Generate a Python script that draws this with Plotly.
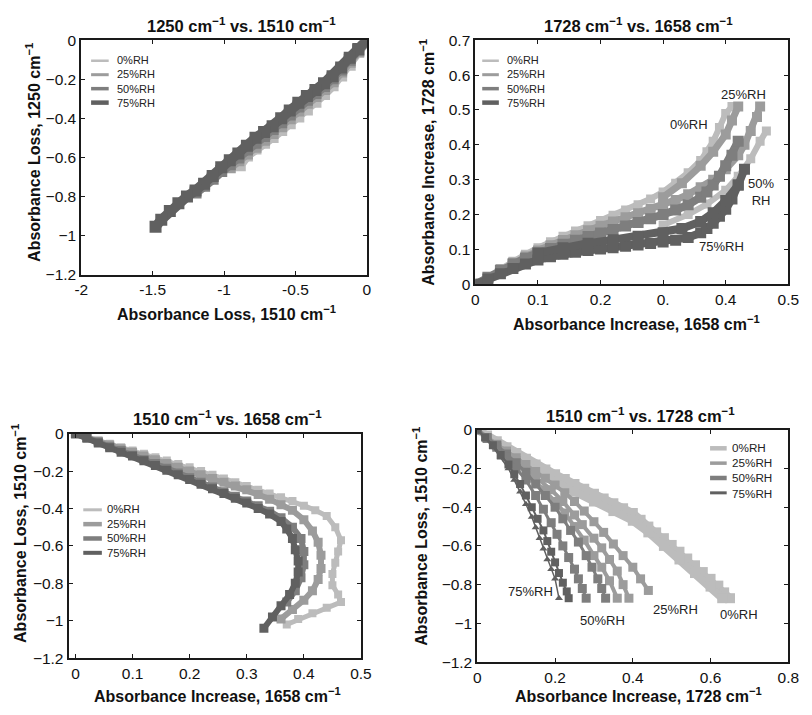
import plotly.graph_objects as go

# ---------------- data ----------------
rh_names = ["0%RH", "25%RH", "50%RH", "75%RH"]
rh_colors = ["#bcbcbc", "#9c9c9c", "#7e7e7e", "#606060"]

# Panel 1: 1250 vs 1510 (both absorbance loss)
p1_x_0 = [0, -0.06, -0.12, -0.18, -0.24, -0.30, -0.36, -0.42, -0.48, -0.54, -0.60, -0.66, -0.72, -0.78, -0.84, -0.89]
p1_y_0 = [0, -0.06, -0.125, -0.18, -0.23, -0.275, -0.315, -0.355, -0.39, -0.425, -0.46, -0.495, -0.525, -0.555, -0.59, -0.64]
p1_x_25 = [0, -0.06, -0.12, -0.18, -0.24, -0.30, -0.36, -0.42, -0.48, -0.54, -0.60, -0.66, -0.72, -0.78, -0.84, -0.90, -0.96]
p1_y_25 = [0, -0.055, -0.11, -0.16, -0.21, -0.25, -0.285, -0.32, -0.36, -0.40, -0.44, -0.475, -0.51, -0.545, -0.58, -0.615, -0.65]
p1_x_50 = [0, -0.06, -0.12, -0.18, -0.24, -0.30, -0.36, -0.42, -0.48, -0.54, -0.60, -0.66, -0.72, -0.78, -0.84, -0.90, -0.96, -1.02, -1.08, -1.14, -1.20]
p1_y_50 = [0, -0.05, -0.10, -0.15, -0.195, -0.235, -0.27, -0.305, -0.34, -0.38, -0.42, -0.455, -0.49, -0.525, -0.56, -0.60, -0.635, -0.67, -0.71, -0.745, -0.78]
p1_x_75 = [0, -0.06, -0.12, -0.18, -0.24, -0.30, -0.36, -0.42, -0.48, -0.54, -0.60, -0.66, -0.72, -0.78, -0.84, -0.90, -0.96, -1.02, -1.08, -1.14, -1.20, -1.26, -1.32, -1.38, -1.44, -1.48]
p1_y_75 = [0, -0.045, -0.09, -0.14, -0.185, -0.22, -0.255, -0.285, -0.32, -0.36, -0.40, -0.44, -0.47, -0.50, -0.54, -0.58, -0.615, -0.65, -0.695, -0.735, -0.77, -0.80, -0.835, -0.875, -0.92, -0.955]

# Panel 2: 1728 vs 1658 (absorbance increase)
p2_x_0a = [0, 0.02, 0.04, 0.06, 0.08, 0.10, 0.12, 0.14, 0.16, 0.18, 0.20, 0.22, 0.24, 0.26, 0.28, 0.30, 0.32, 0.34, 0.36, 0.37, 0.38, 0.39, 0.40, 0.41]
p2_y_0a = [0, 0.022, 0.045, 0.066, 0.086, 0.105, 0.122, 0.138, 0.153, 0.168, 0.183, 0.198, 0.213, 0.228, 0.245, 0.265, 0.29, 0.32, 0.355, 0.38, 0.41, 0.45, 0.49, 0.51]
p2_x_0b = [0.30, 0.34, 0.37, 0.40, 0.42, 0.44, 0.455, 0.465]
p2_y_0b = [0.17, 0.20, 0.23, 0.27, 0.31, 0.36, 0.41, 0.44]
p2_x_25a = [0, 0.02, 0.04, 0.06, 0.08, 0.10, 0.12, 0.14, 0.16, 0.18, 0.20, 0.22, 0.24, 0.26, 0.28, 0.30, 0.32, 0.34, 0.36, 0.38, 0.40, 0.42, 0.43, 0.44, 0.45, 0.455]
p2_y_25a = [0, 0.02, 0.042, 0.062, 0.08, 0.097, 0.112, 0.127, 0.141, 0.155, 0.168, 0.18, 0.192, 0.204, 0.216, 0.228, 0.242, 0.258, 0.278, 0.30, 0.33, 0.37, 0.40, 0.44, 0.48, 0.51]
p2_x_25b = [0.30, 0.33, 0.36, 0.38, 0.40, 0.41, 0.42]
p2_y_25b = [0.25, 0.29, 0.34, 0.38, 0.43, 0.47, 0.51]
p2_x_50 = [0, 0.02, 0.04, 0.06, 0.08, 0.10, 0.12, 0.14, 0.16, 0.18, 0.20, 0.22, 0.24, 0.26, 0.28, 0.30, 0.32, 0.34, 0.36, 0.37, 0.38, 0.39, 0.40, 0.41, 0.42]
p2_y_50 = [0, 0.02, 0.04, 0.058, 0.075, 0.09, 0.103, 0.115, 0.126, 0.137, 0.147, 0.157, 0.167, 0.177, 0.188, 0.20, 0.213, 0.228, 0.25, 0.265, 0.285, 0.31, 0.34, 0.37, 0.41]
p2_x_75a = [0, 0.02, 0.04, 0.06, 0.08, 0.10, 0.12, 0.14, 0.16, 0.18, 0.20, 0.22, 0.24, 0.26, 0.28, 0.30, 0.32, 0.34, 0.36, 0.37, 0.38, 0.39, 0.40, 0.41, 0.42]
p2_y_75a = [0, 0.015, 0.03, 0.045, 0.058, 0.07, 0.079, 0.086, 0.092, 0.097, 0.101, 0.105, 0.109, 0.113, 0.117, 0.121, 0.126, 0.134, 0.148, 0.16, 0.175, 0.195, 0.215, 0.245, 0.285]
p2_x_75b = [0.10, 0.14, 0.18, 0.22, 0.26, 0.30, 0.33, 0.36, 0.38, 0.40, 0.42, 0.43]
p2_y_75b = [0.09, 0.105, 0.118, 0.128, 0.138, 0.148, 0.16, 0.18, 0.205, 0.24, 0.285, 0.33]

# Panel 3: 1510 vs 1658
p3_x_0 = [0, 0.02, 0.04, 0.06, 0.08, 0.10, 0.12, 0.14, 0.16, 0.18, 0.20, 0.22, 0.24, 0.26, 0.28, 0.30, 0.32, 0.34, 0.36, 0.38, 0.40, 0.42, 0.44,
          0.455, 0.465, 0.46, 0.455, 0.45, 0.45, 0.46, 0.465, 0.44, 0.415, 0.39, 0.37]
p3_y_0 = [0, -0.018, -0.036, -0.054, -0.072, -0.09, -0.108, -0.126, -0.144, -0.162, -0.18, -0.20, -0.22, -0.24, -0.26, -0.28, -0.30, -0.32, -0.34, -0.36, -0.385, -0.41, -0.44,
          -0.50, -0.57, -0.63, -0.69, -0.75, -0.81, -0.86, -0.90, -0.93, -0.96, -0.99, -1.02]
p3_x_25 = [0, 0.02, 0.04, 0.06, 0.08, 0.10, 0.12, 0.14, 0.16, 0.18, 0.20, 0.22, 0.24, 0.26, 0.28, 0.30, 0.32, 0.34, 0.36, 0.38,
           0.40, 0.415, 0.425, 0.43, 0.43, 0.425, 0.415, 0.40, 0.38, 0.36]
p3_y_25 = [0, -0.02, -0.04, -0.06, -0.08, -0.10, -0.12, -0.14, -0.16, -0.18, -0.20, -0.22, -0.24, -0.26, -0.28, -0.30, -0.325, -0.35, -0.38, -0.41,
           -0.46, -0.52, -0.58, -0.65, -0.72, -0.78, -0.84, -0.89, -0.94, -0.99]
p3_x_50 = [0, 0.02, 0.04, 0.06, 0.08, 0.10, 0.12, 0.14, 0.16, 0.18, 0.20, 0.22, 0.24, 0.26, 0.28, 0.30, 0.32, 0.34,
           0.36, 0.38, 0.395, 0.40, 0.40, 0.395, 0.385, 0.37]
p3_y_50 = [0, -0.02, -0.045, -0.07, -0.09, -0.115, -0.14, -0.16, -0.185, -0.21, -0.235, -0.26, -0.285, -0.31, -0.335, -0.36, -0.385, -0.415,
           -0.45, -0.50, -0.56, -0.63, -0.70, -0.77, -0.84, -0.90]
p3_x_75 = [0, 0.02, 0.04, 0.06, 0.08, 0.10, 0.12, 0.14, 0.16, 0.18, 0.20, 0.22, 0.24, 0.26, 0.28, 0.30, 0.32, 0.34,
           0.36, 0.37, 0.38, 0.385, 0.39, 0.39, 0.385, 0.375, 0.36, 0.345, 0.33]
p3_y_75 = [0, -0.025, -0.05, -0.075, -0.10, -0.12, -0.145, -0.17, -0.195, -0.22, -0.245, -0.27, -0.295, -0.32, -0.345, -0.37, -0.40, -0.43,
           -0.47, -0.51, -0.56, -0.62, -0.68, -0.74, -0.80, -0.86, -0.92, -0.98, -1.04]

# Panel 4: 1510 vs 1728
p4_x_0a = [0, 0.025, 0.05, 0.075, 0.10, 0.125, 0.15, 0.175, 0.20, 0.225, 0.25, 0.275, 0.30, 0.325, 0.35, 0.375, 0.40, 0.42, 0.44, 0.46, 0.48, 0.50, 0.52, 0.54, 0.56, 0.58, 0.60, 0.62, 0.635, 0.65]
p4_y_0a = [0, -0.03, -0.06, -0.09, -0.12, -0.15, -0.18, -0.205, -0.23, -0.255, -0.28, -0.305, -0.33, -0.355, -0.38, -0.405, -0.43, -0.465, -0.50, -0.53, -0.56, -0.595, -0.63, -0.665, -0.70, -0.735, -0.77, -0.805, -0.84, -0.87]
p4_x_0b = [0.05, 0.10, 0.15, 0.20, 0.25, 0.30, 0.35, 0.40, 0.44, 0.48, 0.52, 0.56, 0.60, 0.63]
p4_y_0b = [-0.08, -0.15, -0.21, -0.27, -0.32, -0.37, -0.42, -0.47, -0.53, -0.60, -0.67, -0.74, -0.81, -0.87]
p4_x_25a = [0, 0.025, 0.05, 0.075, 0.10, 0.125, 0.15, 0.175, 0.20, 0.225, 0.25, 0.275, 0.30, 0.325, 0.35, 0.375, 0.40, 0.42, 0.44]
p4_y_25a = [0, -0.04, -0.075, -0.11, -0.145, -0.18, -0.215, -0.25, -0.285, -0.325, -0.37, -0.42, -0.475, -0.53, -0.59, -0.65, -0.71, -0.77, -0.83]
p4_x_25b = [0, 0.05, 0.10, 0.15, 0.19, 0.22, 0.25, 0.27, 0.30, 0.32, 0.34, 0.36, 0.375, 0.39]
p4_y_25b = [0, -0.08, -0.16, -0.24, -0.31, -0.37, -0.44, -0.49, -0.56, -0.61, -0.67, -0.73, -0.80, -0.87]
p4_x_25c = [0.10, 0.14, 0.17, 0.20, 0.225, 0.25, 0.275, 0.30, 0.32, 0.34, 0.36]
p4_y_25c = [-0.17, -0.25, -0.31, -0.37, -0.43, -0.50, -0.57, -0.65, -0.71, -0.78, -0.87]
p4_x_50a = [0, 0.025, 0.05, 0.075, 0.10, 0.125, 0.15, 0.175, 0.20, 0.22, 0.24, 0.26, 0.28, 0.295, 0.31, 0.32, 0.33]
p4_y_50a = [0, -0.04, -0.08, -0.125, -0.17, -0.22, -0.28, -0.34, -0.40, -0.46, -0.52, -0.58, -0.65, -0.71, -0.77, -0.82, -0.87]
p4_x_50b = [0, 0.025, 0.05, 0.075, 0.10, 0.125, 0.15, 0.17, 0.19, 0.205, 0.22, 0.235, 0.25, 0.26, 0.27, 0.28]
p4_y_50b = [0, -0.045, -0.09, -0.14, -0.20, -0.26, -0.34, -0.41, -0.48, -0.54, -0.60, -0.66, -0.72, -0.77, -0.82, -0.87]
p4_x_75a = [0, 0.02, 0.04, 0.06, 0.08, 0.095, 0.11, 0.125, 0.14, 0.155, 0.17, 0.18, 0.19, 0.20, 0.21, 0.22, 0.23, 0.235]
p4_y_75a = [0, -0.04, -0.08, -0.13, -0.18, -0.23, -0.28, -0.34, -0.40, -0.46, -0.52, -0.575, -0.63, -0.685, -0.74, -0.79, -0.835, -0.87]
p4_x_75b = [0, 0.02, 0.04, 0.06, 0.08, 0.095, 0.11, 0.125, 0.14, 0.15, 0.16, 0.17, 0.18, 0.19, 0.20, 0.21]
p4_y_75b = [0, -0.045, -0.09, -0.145, -0.20, -0.26, -0.32, -0.385, -0.45, -0.505, -0.56, -0.615, -0.67, -0.72, -0.77, -0.87]

# annotation labels (data coordinates)
p2_labels = [("25%RH", 0.428, 0.543), ("0%RH", 0.342, 0.459), ("50%<br>RH", 0.456, 0.266), ("75%RH", 0.394, 0.109)]
p4_labels = [("75%RH", 0.138, -0.837), ("50%RH", 0.322, -0.983), ("25%RH", 0.511, -0.928), ("0%RH", 0.674, -0.953)]

# ---------------- figure ----------------
W, H = 812, 715
FONT = "Liberation Sans, Arial, Helvetica, sans-serif"

def dom_x(a, b):
    return [a / W, b / W]

def dom_y(top, bottom):
    return [1 - bottom / H, 1 - top / H]

fig = go.Figure()

def add_runs(xa, ya, runs, color, lw, msize, symbol="square"):
    for rx, ry in runs:
        fig.add_trace(go.Scatter(
            x=rx, y=ry, xaxis=xa, yaxis=ya, mode="lines+markers",
            line=dict(color=color, width=lw),
            marker=dict(symbol=symbol, size=msize, color=color),
            showlegend=False, hoverinfo="skip"))

# Panel 1
add_runs("x", "y", [(p1_x_0, p1_y_0)], rh_colors[0], 10, 12)
add_runs("x", "y", [(p1_x_25, p1_y_25)], rh_colors[1], 10, 12)
add_runs("x", "y", [(p1_x_50, p1_y_50)], rh_colors[2], 10, 12)
add_runs("x", "y", [(p1_x_75, p1_y_75)], rh_colors[3], 10, 12)

# Panel 2
add_runs("x2", "y2", [(p2_x_0a, p2_y_0a), (p2_x_0b, p2_y_0b)], rh_colors[0], 6, 9)
add_runs("x2", "y2", [(p2_x_25a, p2_y_25a), (p2_x_25b, p2_y_25b)], rh_colors[1], 7, 10)
add_runs("x2", "y2", [(p2_x_50, p2_y_50)], rh_colors[2], 8, 11)
add_runs("x2", "y2", [(p2_x_75a, p2_y_75a), (p2_x_75b, p2_y_75b)], rh_colors[3], 8, 11)

# Panel 3
add_runs("x3", "y3", [(p3_x_0, p3_y_0)], rh_colors[0], 5, 8)
add_runs("x3", "y3", [(p3_x_25, p3_y_25)], rh_colors[1], 6, 9)
add_runs("x3", "y3", [(p3_x_50, p3_y_50)], rh_colors[2], 6, 9)
add_runs("x3", "y3", [(p3_x_75, p3_y_75)], rh_colors[3], 6, 9)

# Panel 4
add_runs("x4", "y4", [(p4_x_0a, p4_y_0a), (p4_x_0b, p4_y_0b)], rh_colors[0], 8, 10)
add_runs("x4", "y4", [(p4_x_25a, p4_y_25a), (p4_x_25b, p4_y_25b), (p4_x_25c, p4_y_25c)], rh_colors[1], 4, 9)
add_runs("x4", "y4", [(p4_x_50a, p4_y_50a), (p4_x_50b, p4_y_50b)], rh_colors[2], 3, 9)
add_runs("x4", "y4", [(p4_x_75a, p4_y_75a)], rh_colors[3], 2, 8)
add_runs("x4", "y4", [(p4_x_75b, p4_y_75b)], rh_colors[3], 1.5, 7, symbol="triangle-up")

axis_common = dict(showline=True, linecolor="#1a1a1a", linewidth=2, mirror="ticks",
                   ticks="inside", ticklen=4, tickcolor="#1a1a1a", tickwidth=1,
                   showgrid=False, zeroline=False,
                   tickfont=dict(family=FONT, size=15.5, color="#111"))

yneg_vals = [0, -0.2, -0.4, -0.6, -0.8, -1, -1.2]
yneg_text = ["0", "\u22120.2", "\u22120.4", "\u22120.6", "\u22120.8", "\u22121", "\u22121.2"]

fig.update_layout(
    width=W, height=H, margin=dict(l=0, r=0, t=0, b=0),
    paper_bgcolor="white", plot_bgcolor="white", showlegend=False,
    font=dict(family=FONT, color="#111"),
    xaxis=dict(domain=dom_x(76, 368), anchor="y", range=[-2, 0],
               tickvals=[-2, -1.5, -1, -0.5, 0], ticktext=["-2", "-1.5", "-1", "-0.5", "0"], **axis_common),
    yaxis=dict(domain=dom_y(32, 272), anchor="x", range=[-1.2, 0],
               tickvals=yneg_vals, ticktext=yneg_text, **axis_common),
    xaxis2=dict(domain=dom_x(479, 799), anchor="y2", range=[0, 0.5],
                tickvals=[0, 0.1, 0.2, 0.3, 0.4, 0.5], ticktext=["0", "0.1", "0.2", "0.", "0.4", "0.5"], **axis_common),
    yaxis2=dict(domain=dom_y(32, 282), anchor="x2", range=[0, 0.7],
                tickvals=[0, 0.1, 0.2, 0.3, 0.4, 0.5, 0.6, 0.7], **axis_common),
    xaxis3=dict(domain=dom_x(63, 362), anchor="y3", range=[-0.012, 0.5],
                tickvals=[0, 0.1, 0.2, 0.3, 0.4, 0.5], **axis_common),
    yaxis3=dict(domain=dom_y(435, 665), anchor="x3", range=[-1.2, 0],
                tickvals=yneg_vals, ticktext=yneg_text, **axis_common),
    xaxis4=dict(domain=dom_x(481, 799), anchor="y4", range=[0, 0.8],
                tickvals=[0, 0.2, 0.4, 0.6, 0.8], **axis_common),
    yaxis4=dict(domain=dom_y(431, 669), anchor="x4", range=[-1.2, 0],
                tickvals=yneg_vals, ticktext=yneg_text, **axis_common),
)

ann = []
shapes = []

def paper_text(text, x, y, size, bold=False, angle=0, xanchor="center", color="#111", align="center"):
    t = f"<b>{text}</b>" if bold else text
    ann.append(dict(text=t, x=x / W, y=1 - y / H, xref="paper", yref="paper",
                    showarrow=False, xanchor=xanchor, yanchor="middle", textangle=angle,
                    align=align, borderpad=0,
                    font=dict(family=FONT, size=size, color=color)))

# custom compact legends: one multi-line text block per panel, swatches aligned to its lines
# (line start, line end, text x, first row y, font size)
legend_specs = [
    (86, 104, 111, 53, 11),
    (486, 503, 510, 53, 11),
    (78, 97, 101, 513, 11.3),
    (719, 736, 740, 450, 11.7),
]
legend_widths = [[2.5, 3, 3.5, 4.5], [2.5, 3, 3.5, 4.5], [3, 4.5, 4.5, 4], [4.5, 3.5, 4.5, 3]]
for (lx0, lx1, tx, ty0, fs), widths in zip(legend_specs, legend_widths):
    step = 1.3 * fs
    for i, color in enumerate(rh_colors):
        yy = ty0 + i * step
        shapes.append(dict(type="line", xref="paper", yref="paper",
                           x0=lx0 / W, x1=lx1 / W, y0=1 - yy / H, y1=1 - yy / H,
                           line=dict(color=color, width=widths[i])))
    paper_text("<br>".join(rh_names), tx, ty0 + 1.5 * step, fs, xanchor="left",
               color="#222", align="left")

sup = "<sup>\u22121</sup>"
# titles
paper_text(f"1250 cm{sup} vs. 1510 cm{sup}", 240, 16, 16.5, bold=True)
paper_text(f"1728 cm{sup} vs. 1658 cm{sup}", 646, 16, 16.5, bold=True)
paper_text(f"1510 cm{sup} vs. 1658 cm{sup}", 225, 419, 16.5, bold=True)
paper_text(f"1510 cm{sup} vs. 1728 cm{sup}", 648, 416, 16.5, bold=True)
# axis titles
paper_text(f"Absorbance Loss, 1510 cm{sup}", 224, 311, 16, bold=True)
paper_text(f"Absorbance Loss, 1250 cm{sup}", 26, 147, 16, bold=True, angle=-90)
paper_text(f"Absorbance Increase, 1658 cm{sup}", 644, 322, 16, bold=True)
paper_text(f"Absorbance Increase, 1728 cm{sup}", 430, 157, 16, bold=True, angle=-90)
paper_text(f"Absorbance Increase, 1658 cm{sup}", 215, 703, 16, bold=True)
paper_text(f"Absorbance Loss, 1510 cm{sup}", 13, 537, 16, bold=True, angle=-90)
paper_text(f"Absorbance Increase, 1728 cm{sup}", 646, 703, 16, bold=True)
paper_text(f"Absorbance Loss, 1510 cm{sup}", 423, 540, 16, bold=True, angle=-90)

for text, x, y in p2_labels:
    ann.append(dict(text=text, x=x, y=y, xref="x2", yref="y2", showarrow=False,
                    font=dict(family=FONT, size=13, color="#222")))
for text, x, y in p4_labels:
    ann.append(dict(text=text, x=x, y=y, xref="x4", yref="y4", showarrow=False,
                    font=dict(family=FONT, size=13, color="#222")))

fig.update_layout(annotations=ann, shapes=shapes)
fig.write_html("out.html")
